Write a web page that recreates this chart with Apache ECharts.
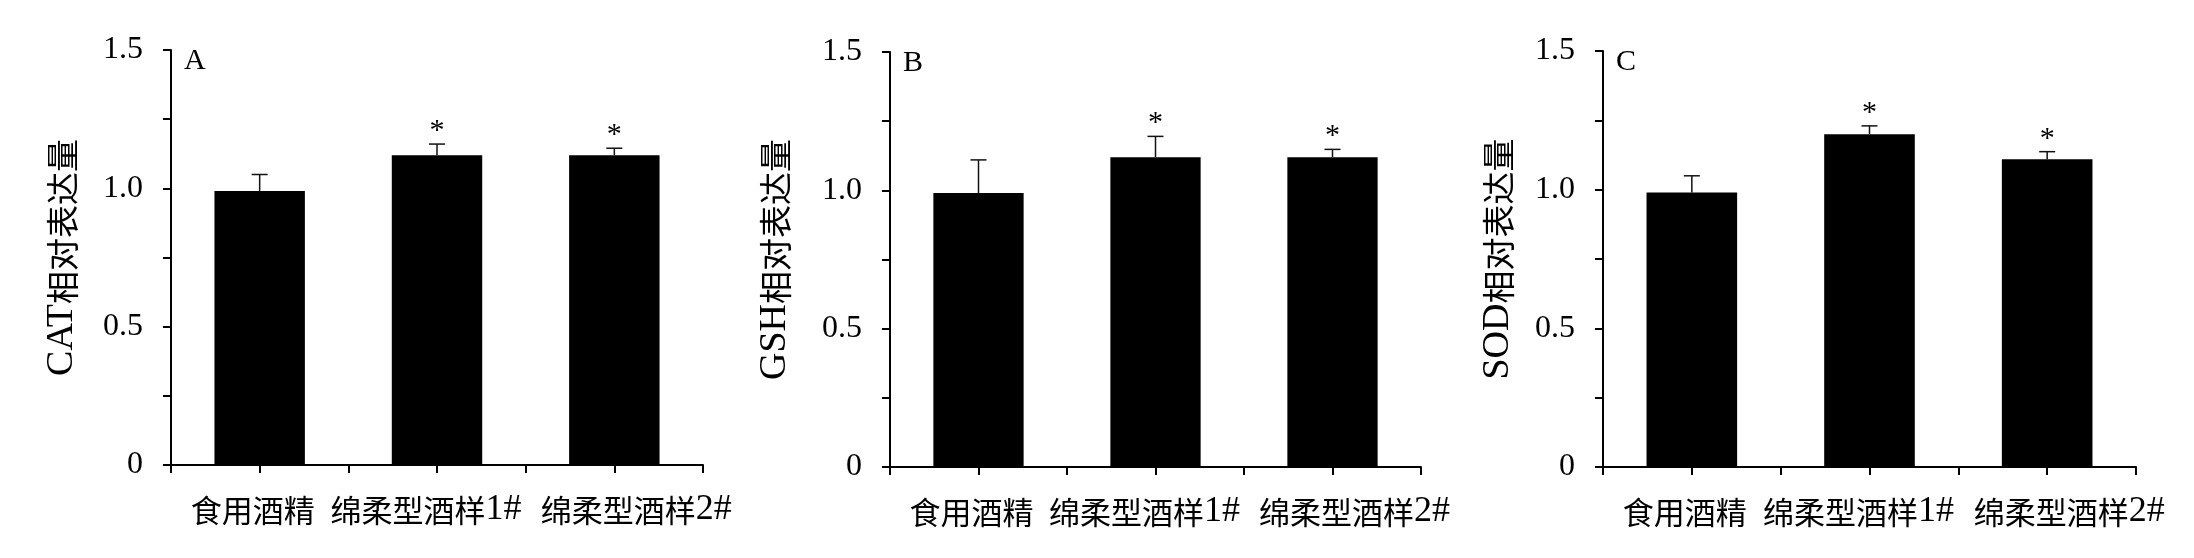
<!DOCTYPE html>
<html>
<head>
<meta charset="utf-8">
<script src="https://cdn.jsdelivr.net/npm/echarts@6/dist/echarts.min.js"></script>
<style>
html,body{margin:0;padding:0;background:#fff;}
#chart{width:2194px;height:558px;}
</style>
</head>
<body>
<div id="chart"></div>
<script>
// ---- data ----
const categories = ['食用酒精', '绵柔型酒样1#', '绵柔型酒样2#'];
const catMeans = [0.99, 1.12, 1.12];
const catErrors = [0.06, 0.04, 0.025];
const gshMeans = [0.99, 1.12, 1.12];
const gshErrors = [0.12, 0.075, 0.028];
const sodMeans = [0.99, 1.20, 1.11];
const sodErrors = [0.06, 0.03, 0.027];
const significance = ['', '*', '*'];
const yTickLabels = ['0', '', '0.5', '', '1.0', '', '1.5'];
const yAxisNames = ['CAT相对表达量', 'GSH相对表达量', 'SOD相对表达量'];
const panelLetters = ['A', 'B', 'C'];

const panelData = [
  { means: catMeans, errors: catErrors },
  { means: gshMeans, errors: gshErrors },
  { means: sodMeans, errors: sodErrors }
];

// ---- layout ----
const grids = [
  { left: 171, top: 50, width: 532, height: 415 },
  { left: 890, top: 52, width: 531, height: 415 },
  { left: 1603, top: 51, width: 533, height: 416 }
];
const nameGaps = [90, 96, 86];
// per-label sideways shift via padding (centred labels)
const labelPads = [[0, 14, 0, 0], [0, 22, 0, 0], [0, 0, 0, 44]];
const serif = '"Liberation Serif", "Times New Roman", serif';
const cjk = '"Noto Sans CJK SC", "Liberation Serif", sans-serif';

// split a label into its CJK part and its Latin suffix
function splitLatin(s) {
  const m = s.match(/^([^\x00-\x7f]*)(.*)$/);
  return [m[1], m[2]];
}
function splitLead(s) {
  const m = s.match(/^([\x00-\x7f]*)(.*)$/);
  return [m[1], m[2]];
}

const option = {
  backgroundColor: '#fff',
  animation: false,
  grid: grids.map(g => Object.assign({ containLabel: false }, g)),
  graphic: grids.map((g, i) => ({
    type: 'text',
    left: g.left + 13,
    top: g.top - 4,
    style: { text: panelLetters[i], font: '30px ' + serif, fill: '#000' }
  })),
  xAxis: [],
  yAxis: [],
  series: []
};

const xRich = {};
labelPads.forEach((p, k) => {
  xRich['a' + k] = { fontSize: 31, fontFamily: cjk, color: '#000', lineHeight: 36,
    padding: [0, 0, 0, p[3]] };
  xRich['b' + k] = { fontSize: 36, fontFamily: serif, color: '#000', lineHeight: 36,
    padding: [0, p[1], 0, 0] };
});

grids.forEach((g, i) => {
  option.xAxis.push({
    type: 'category', gridIndex: i, data: categories,
    axisLine: { lineStyle: { color: '#000', width: 2 } },
    axisTick: { show: true, length: 8, lineStyle: { color: '#000', width: 2 } },
    axisLabel: {
      color: '#000', margin: 27, interval: 0,
      formatter: (v, idx) => {
        const [c, l] = splitLatin(v);
        return '{a' + idx + '|' + c + '}{b' + idx + '|' + (l || '') + '}';
      },
      rich: xRich
    }
  });
  option.xAxis.push({
    type: 'category', gridIndex: i, data: categories, position: 'bottom',
    axisLine: { show: false },
    axisTick: { show: true, alignWithLabel: true, length: 8, lineStyle: { color: '#000', width: 2 } },
    axisLabel: { show: false }
  });
  const [lat, han] = splitLead(yAxisNames[i]);
  option.yAxis.push({
    type: 'value', gridIndex: i, min: 0, max: 1.5, interval: 0.25,
    name: '{l|' + lat + '}{c|' + han + '}', nameLocation: 'middle', nameGap: nameGaps[i],
    nameTextStyle: {
      color: '#000', fontSize: 33, fontFamily: cjk,
      rich: {
        l: { fontSize: 38, fontFamily: serif, color: '#000', lineHeight: 38 },
        c: { fontSize: 33, fontFamily: cjk, color: '#000', lineHeight: 38 }
      }
    },
    axisLine: { show: true, lineStyle: { color: '#000', width: 2 } },
    axisTick: { show: true, length: 8, lineStyle: { color: '#000', width: 2 } },
    splitLine: { show: false },
    axisLabel: {
      color: '#000', fontSize: 32, fontFamily: serif, margin: 28,
      formatter: v => yTickLabels[Math.round(v / 0.25)] || ''
    }
  });
  const d = panelData[i];
  option.series.push({
    type: 'bar', xAxisIndex: i * 2, yAxisIndex: i,
    data: d.means, barWidth: '51%',
    itemStyle: { color: '#000' }, z: 2
  });
  option.series.push({
    type: 'custom', xAxisIndex: i * 2, yAxisIndex: i, z: 3,
    data: d.means.map((m, k) => [k, m, d.errors[k]]),
    renderItem: (params, api) => {
      const k = api.value(0), m = api.value(1), e = api.value(2);
      const base = api.coord([k, m]);
      const top = api.coord([k, m + e]);
      const cap = 8;
      const children = [
        { type: 'line', shape: { x1: base[0], y1: base[1], x2: top[0], y2: top[1] },
          style: { stroke: '#111', lineWidth: 1.5 } },
        { type: 'line', shape: { x1: top[0] - cap, y1: top[1], x2: top[0] + cap, y2: top[1] },
          style: { stroke: '#111', lineWidth: 1.5 } }
      ];
      const s = significance[params.dataIndex];
      if (s) {
        children.push({ type: 'text', x: top[0], y: top[1] + 2,
          style: { text: s, font: '30px ' + serif, fill: '#000', align: 'center', verticalAlign: 'bottom' } });
      }
      return { type: 'group', children };
    }
  });
});

const chart = echarts.init(document.getElementById('chart'), null, { renderer: 'canvas', width: 2194, height: 558 });
chart.setOption(option);
</script>
</body>
</html>
